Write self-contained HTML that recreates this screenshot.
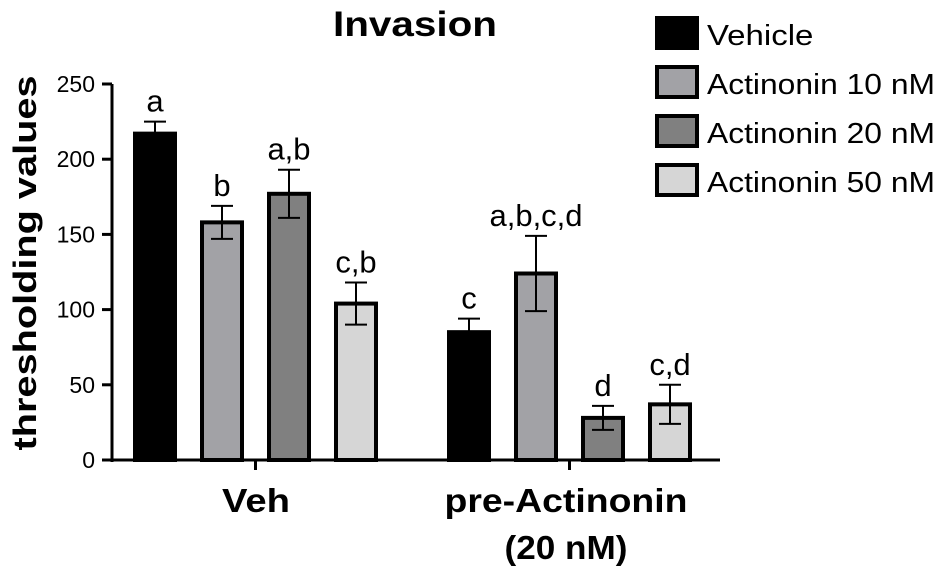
<!DOCTYPE html>
<html><head><meta charset="utf-8"><style>
body{margin:0;background:#fff;}
svg{display:block;font-family:"Liberation Sans",Arial,sans-serif;}
</style></head><body>
<svg id="chart" width="945" height="573" viewBox="0 0 945 573">
<text x="415" y="36" font-size="35" font-weight="bold" text-anchor="middle" textLength="164" lengthAdjust="spacingAndGlyphs">Invasion</text>
<text transform="translate(36,263) rotate(-90)" font-size="32" font-weight="bold" text-anchor="middle" textLength="375" lengthAdjust="spacingAndGlyphs">thresholding values</text>
<g id="axes"></g><g id="bars"></g><g id="legend"></g>
</svg>
<script>
const groups=["Veh","pre-Actinonin"];
const series=["Vehicle","Actinonin 10 nM","Actinonin 20 nM","Actinonin 50 nM"];
const vehValues=[217,158,177,104];
const preValues=[85,124,28,37];
const vehErrors=[8,11,16,14];
const preErrors=[9,25,8,13];
const vehLetters=["a","b","a,b","c,b"];
const preLetters=["c","a,b,c,d","d","c,d"];
const yTicks=[0,50,100,150,200,250];
const colors=["#000000","#a2a2a6","#808080","#d6d6d6"];
const NS="http://www.w3.org/2000/svg";
const y0=460,y250=84;
function y(v){return y0-(v/250)*(y0-y250);}
const groupStart=[133,447],barStep=67,bw=44;
function mk(t,a,p){const e=document.createElementNS(NS,t);for(const k in a)e.setAttribute(k,a[k]);p.appendChild(e);return e;}
const ax=document.getElementById('axes');
const yl=mk('line',{x1:112,y1:y250,x2:112,y2:y0+2,stroke:'#000','stroke-width':3},ax);


const xl=mk('line',{x1:110,y1:y0,x2:720,y2:y0,stroke:'#000','stroke-width':3},ax);


yTicks.forEach(t=>{
 mk('line',{x1:102,x2:112,y1:y(t),y2:y(t),stroke:'#000','stroke-width':3},ax);
 const tx=mk('text',{x:95,y:y(t)+8,'font-size':23,'text-anchor':'end'},ax);tx.textContent=t;
 
 
});
const bg=document.getElementById('bars');
const allV=[vehValues,preValues],allE=[vehErrors,preErrors],allL=[vehLetters,preLetters];
groups.forEach((g,gi)=>{
 const cx=groupStart[gi]+(barStep*3+bw)/2;
 mk('line',{x1:cx,x2:cx,y1:y0,y2:y0+10,stroke:'#000','stroke-width':3},ax);
 allV[gi].forEach((v,i)=>{
  const x=groupStart[gi]+i*barStep;
  const r=mk('rect',{x:x+2,y:y(v),width:bw-4,height:y0-y(v),fill:colors[i],stroke:'#000','stroke-width':4},bg);
  
  
  const e=allE[gi][i],mx=x+bw/2;
  mk('line',{x1:mx,x2:mx,y1:y(v+e),y2:y(Math.max(v-e,0)),stroke:'#000','stroke-width':2},bg);
  mk('line',{x1:mx-11,x2:mx+11,y1:y(v+e),y2:y(v+e),stroke:'#000','stroke-width':2},bg);
  mk('line',{x1:mx-11,x2:mx+11,y1:y(v-e),y2:y(v-e),stroke:'#000','stroke-width':2},bg);
  const lt=mk('text',{x:mx,y:y(v+e)-10,'font-size':31,'text-anchor':'middle'},bg);lt.textContent=allL[gi][i];
  
  
 });
});
const gl1=mk('text',{x:256,y:512,'font-size':33,'font-weight':'bold','text-anchor':'middle',textLength:68,lengthAdjust:'spacingAndGlyphs'},ax);gl1.textContent="Veh";


const gl2=mk('text',{x:566,y:512,'font-size':33,'font-weight':'bold','text-anchor':'middle',textLength:243,lengthAdjust:'spacingAndGlyphs'},ax);gl2.textContent="pre-Actinonin";


const gl3=mk('text',{x:566,y:559,'font-size':33,'font-weight':'bold','text-anchor':'middle',textLength:123,lengthAdjust:'spacingAndGlyphs'},ax);gl3.textContent="(20 nM)";


const lg=document.getElementById('legend');
series.forEach((s,i)=>{
 const yy=18+i*49;
 const r=mk('rect',{x:657,y:yy,width:40,height:30,fill:colors[i],stroke:'#000','stroke-width':4},lg);
 
 
 const t=mk('text',{x:707,y:yy+27,'font-size':29},lg);t.textContent=s;
 t.setAttribute('textLength',s.length*15.2);
 t.setAttribute('lengthAdjust','spacingAndGlyphs');
 
 
});
</script>
</body></html>
